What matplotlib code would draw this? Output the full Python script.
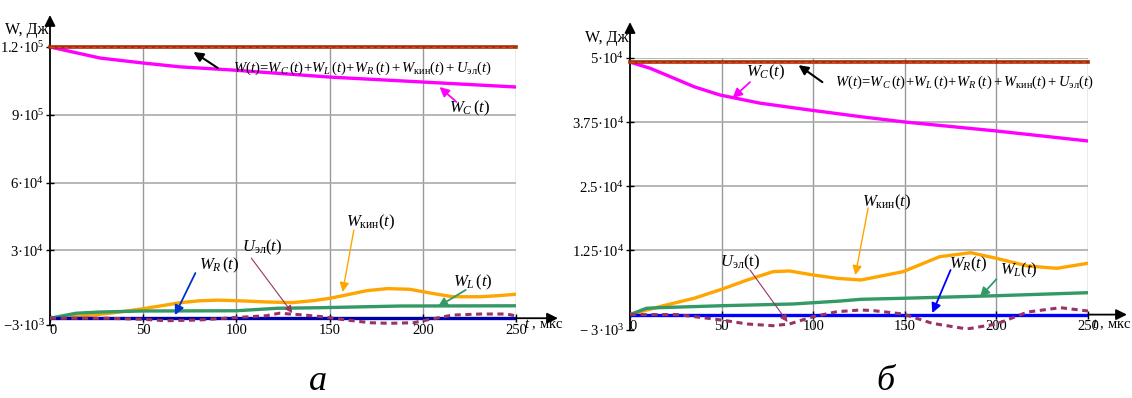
import matplotlib
matplotlib.use("Agg")
import matplotlib.pyplot as plt

plt.rcParams['font.family'] = ['Liberation Serif', 'DejaVu Serif']
plt.rcParams['mathtext.fontset'] = 'custom'
plt.rcParams['mathtext.rm'] = 'Liberation Serif'
plt.rcParams['mathtext.it'] = 'Liberation Serif:italic'
plt.rcParams['mathtext.bf'] = 'Liberation Serif:bold'

# ---- panel a (t in мкс, W in Дж) ----
t_a_total = [0, 250]
W_a_total = [120000, 120000]

t_a_C = [0, 27, 50, 70, 98, 150, 200, 250]
W_a_C = [120000, 115100, 112900, 111200, 109800, 106700, 104500, 102300]

t_a_kin = [0, 18, 32, 45, 59, 70, 80, 90, 102, 116, 130, 141, 150, 159, 170, 181,
           193, 205, 216, 231, 241, 250]
W_a_kin = [0, 1000, 2200, 3600, 5400, 6900, 7700, 8000, 7700, 7200, 6900, 7750, 8800,
           10300, 12200, 13100, 12800, 11000, 9500, 9500, 10000, 10600]

t_a_L = [0, 14, 27, 50, 100, 122, 145, 188, 250]
W_a_L = [0, 2200, 2750, 3200, 3300, 4400, 4650, 5400, 5500]

t_a_R = [0, 250]
W_a_R = [0, 0]

t_a_U = [0, 30, 50, 62, 80, 98, 116, 123, 134, 146, 159, 172, 182, 195, 204, 216,
         231, 245, 250]
W_a_U = [0, 0, -480, -1100, -800, 230, 1100, 2200, 1560, 670, -790, -2000, -2250,
         -2000, -480, 1400, 1860, 1860, 1000]

# ---- panel b ----
t_b_total = [0, 250]
W_b_total = [49200, 49200]

t_b_C = [0, 11, 22, 35, 49, 71, 98, 126, 150, 200, 250]
W_b_C = [49200, 48000, 46360, 44400, 42800, 41200, 39870, 38560, 37530, 35780, 33830]

t_b_kin = [0, 16, 35, 50, 64, 78, 87, 100, 113, 126, 149, 169, 186, 200, 217, 233, 250]
W_b_kin = [0, 1540, 3180, 4930, 6740, 8360, 8500, 7720, 7070, 6740, 8360, 11280,
           12060, 10970, 9470, 9020, 10000]

t_b_L = [0, 9, 16, 50, 89, 115, 126, 149, 200, 250]
W_b_L = [0, 1230, 1350, 1730, 2070, 2650, 2980, 3180, 3680, 4270]

t_b_R = [0, 250]
W_b_R = [0, 0]

t_b_U = [0, 26, 50, 64, 78, 87, 100, 113, 126, 133, 149, 165, 184, 200, 217, 235, 250]
W_b_U = [0, 0, -1050, -1830, -2160, -1830, -400, 570, 900, 770, 120, -1700, -2800,
         -1830, 500, 1350, 700]

x_ticks = [0, 50, 100, 150, 200, 250]
y_ticks_a = [-3000, 30000, 60000, 90000, 120000]
y_labels_a = ['\u22123·10$^3$', '3·10$^4$', '6·10$^4$', '9·10$^5$', '1.2·10$^5$']
y_ticks_b = [-3000, 12500, 25000, 37500, 50000]
y_labels_b = ['\u2212 3·10$^3$', '1.25·10$^4$', '2.5·10$^4$', '3.75·10$^4$', '5·10$^4$']

formula = (r'$W(t)\!=\!W_C\,(t)\!+\!W_L\,(t)\!+\!W_R\,(t)+W_{\mathrm{кин}}(t)'
           r'+U_{\mathrm{эл}}(t)$')

W = 1132
H = 398
fig = plt.figure(figsize=(W / 100, H / 100), dpi=100)


def px(x, y):
    return x / W, 1 - y / H


def arrow(ax, head, tail, color, lw=1.3, scale=14):
    ax.annotate('', xy=head, xytext=tail,
                arrowprops=dict(arrowstyle='-|>', color=color, lw=lw,
                                mutation_scale=scale, shrinkA=0, shrinkB=0))


def panel(ax, data, yticks, ylabels, ytop, blue, xarrow, yarrow):
    t_tot, w_tot, t_c, w_c, t_k, w_k, t_l, w_l, t_r, w_r, t_u, w_u = data
    ax.set_xlim(0, 250)
    ax.set_ylim(-3000, ytop)
    for xt in x_ticks[1:]:
        ax.axvline(xt, color='#999999', lw=1, zorder=0)
    for yt in yticks[1:]:
        ax.axhline(yt, color='#aaaaaa', lw=1.2, zorder=0)

    ax.plot(t_c, w_c, color='#ff00ff', lw=2.4, zorder=3)
    ax.plot(t_k, w_k, color='#ffa500', lw=2.4, zorder=3)
    ax.plot(t_l, w_l, color='#339966', lw=2.4, zorder=3)
    ax.plot(t_r, w_r, color=blue, lw=2.4, zorder=3)
    ax.plot(t_u, w_u, color='#993366', lw=2.2, ls=(0, (2, 1.5)), zorder=4)
    ax.plot(t_tot, w_tot, color='#993300', lw=2.6, zorder=5, clip_on=False)
    ax.plot(t_tot, w_tot, color='#ff3030', lw=1.0, ls=(0, (3, 2)), zorder=6,
            clip_on=False)

    for s in ['top', 'right']:
        ax.spines[s].set_visible(False)
    ax.spines['bottom'].set_position(('data', 0))
    ax.spines['left'].set_linewidth(1.3)
    ax.spines['bottom'].set_linewidth(1.3)
    ax.set_xticks(x_ticks)
    ax.set_xticklabels([str(v) for v in x_ticks])
    ax.get_xticklabels()[0].set_ha('left')
    ax.set_yticks(yticks)
    ax.set_yticklabels(ylabels)
    ax.tick_params(direction='inout', length=6, width=1, labelsize=10.5, pad=1)
    ax.patch.set_visible(False)

    ax.annotate('', xy=(xarrow, 0), xytext=(1.0, 0),
                xycoords=('axes fraction', 'data'),
                textcoords=('axes fraction', 'data'),
                arrowprops=dict(arrowstyle='-|>', color='black', lw=1.3,
                                mutation_scale=16, shrinkA=0, shrinkB=0),
                annotation_clip=False)
    ax.annotate('', xy=(0, yarrow), xytext=(0, 1.0),
                xycoords='axes fraction',
                arrowprops=dict(arrowstyle='-|>', color='black', lw=1.3,
                                mutation_scale=16, shrinkA=0, shrinkB=0),
                annotation_clip=False)


# panel a
ax_a = fig.add_axes([50 / W, (H - 325) / H, 466 / W, 278 / H])
panel(ax_a, (t_a_total, W_a_total, t_a_C, W_a_C, t_a_kin, W_a_kin, t_a_L, W_a_L,
             t_a_R, W_a_R, t_a_U, W_a_U),
      y_ticks_a, y_labels_a, 120000, '#0000aa', 1.09, 1.115)

fs = 12
ffs = 10.5
arrow(ax_a, (77, 117800), (90, 110700), 'black', lw=1.5)
ax_a.text(98, 110700, formula, fontsize=ffs, va='center', ha='left')
arrow(ax_a, (209, 102300), (218, 95700), '#ff00ff')
ax_a.text(225, 93000, r'$W_C\,(t)$', fontsize=fs, va='center', ha='center')
arrow(ax_a, (157, 11600), (163, 39000), '#ffa500', lw=1.0)
ax_a.text(172, 42600, r'$W_{\mathrm{кин}}(t)$', fontsize=fs, va='center', ha='center')
arrow(ax_a, (208, 5000), (223, 12500), '#339966')
ax_a.text(227, 16000, r'$W_L\,(t)$', fontsize=fs, va='center', ha='center')
arrow(ax_a, (67, 1400), (78, 20000), '#0033cc')
ax_a.text(91, 23500, r'$W_R\,(t)$', fontsize=fs, va='center', ha='center')
arrow(ax_a, (130, 2300), (108, 26600), '#993366', lw=0.8, scale=11)
ax_a.text(114, 31500, r'$U_{\mathrm{эл}}(t)$', fontsize=fs, va='center', ha='center')

# panel b
ax_b = fig.add_axes([630 / W, (H - 330) / H, 458 / W, 272 / H])
panel(ax_b, (t_b_total, W_b_total, t_b_C, W_b_C, t_b_kin, W_b_kin, t_b_L, W_b_L,
             t_b_R, W_b_R, t_b_U, W_b_U),
      y_ticks_b, y_labels_b, 50000, '#0000ff', 1.085, 1.132)

arrow(ax_b, (92, 48600), (105, 45300), 'black', lw=1.5)
ax_b.text(112, 45300, formula, fontsize=ffs, va='center', ha='left')
arrow(ax_b, (56, 42200), (65.5, 45300), '#ff00ff')
ax_b.text(74, 47100, r'$W_C(t)$', fontsize=fs, va='center', ha='center')
arrow(ax_b, (86, -1440), (65.5, 8700), '#993366', lw=0.8, scale=11)
ax_b.text(60, 10250, r'$U_{\mathrm{эл}}(\mathrm{t})$', fontsize=fs, va='center',
          ha='center')
arrow(ax_b, (123, 7700), (130, 20800), '#ffa500', lw=1.0)
ax_b.text(140, 21900, r'$W_{\mathrm{кин}}(t)$', fontsize=fs, va='center', ha='center')
arrow(ax_b, (165, 300), (175, 8700), '#0000ff')
ax_b.text(184.5, 9700, r'$W_R(t)$', fontsize=fs, va='center', ha='center')
arrow(ax_b, (191, 3400), (200, 6900), '#339966')
ax_b.text(212, 8700, r'$W_L(t)$', fontsize=fs, va='center', ha='center')

# axis titles and panel letters
fig.text(*px(5, 30), 'W, Дж', fontsize=11.5, va='center', ha='left')
fig.text(*px(585, 38), 'W, Дж', fontsize=11.5, va='center', ha='left')
fig.text(*px(524, 325), r'$t$ , мкс', fontsize=10.5, va='center', ha='left')
fig.text(*px(1092, 325), r'$t$ , мкс', fontsize=10.5, va='center', ha='left')
fig.text(*px(318, 382), 'а', fontsize=26, style='italic', va='center', ha='center')
fig.text(*px(885, 381), 'б', fontsize=26, style='italic', va='center', ha='center')

fig.savefig('out.png', dpi=100)
